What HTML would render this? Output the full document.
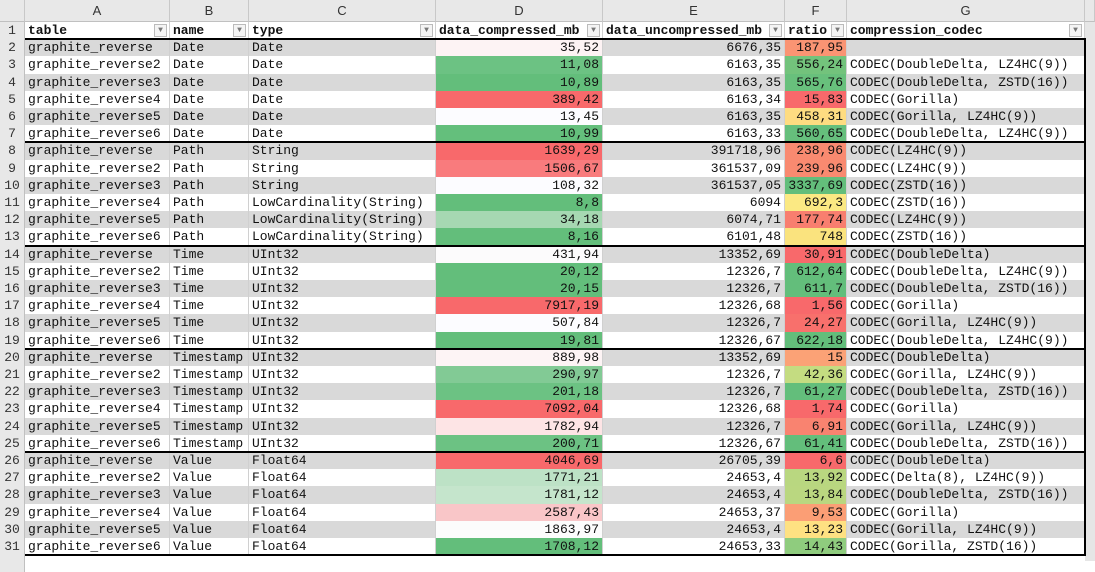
<!DOCTYPE html>
<html><head><meta charset="utf-8">
<style>
body{margin:0;width:1095px;height:561px;overflow:hidden;background:#fff;font-family:"Liberation Mono",monospace;font-size:13px;color:#111;position:relative}
.c{position:absolute;box-sizing:border-box;white-space:nowrap;overflow:hidden;line-height:17px;padding:0 3px;border-right:1px solid #d0d0d0}
.hd{position:absolute;top:0;height:22px;line-height:22px;text-align:center;background:#e8e8e8;border-right:1px solid #c8c8c8;border-bottom:1px solid #c0c0c0;box-sizing:border-box;font-family:"Liberation Sans",sans-serif;font-size:13px;color:#333}
.rn{position:absolute;left:0;width:25px;text-align:center;background:#e8e8e8;border-right:1px solid #c0c0c0;box-sizing:border-box;font-size:13px;color:#333;line-height:17px}
.r{text-align:right}
.b{font-weight:bold}
.dd{position:absolute;right:2px;top:2px;width:13px;height:13px;border:1px solid #bbb;background:#f4f4f4;box-sizing:border-box;font-size:8px;line-height:11px;text-align:center;color:#777}
.line{position:absolute;background:#000}
</style></head><body>
<div id="sheet"></div>
<script>
const cols=[["A",25,170],["B",170,249],["C",249,436],["D",436,603],["E",603,785],["F",785,847],["G",847,1085]];
const headers=["table","name","type","data_compressed_mb","data_uncompressed_mb","ratio","compression_codec"];
const tables=["graphite_reverse","graphite_reverse2","graphite_reverse3","graphite_reverse4","graphite_reverse5","graphite_reverse6"];
const names=["Date","Path","Time","Timestamp","Value"];
const types=[["Date","Date","Date","Date","Date","Date"],["String","String","String","LowCardinality(String)","LowCardinality(String)","LowCardinality(String)"],["UInt32","UInt32","UInt32","UInt32","UInt32","UInt32"],["UInt32","UInt32","UInt32","UInt32","UInt32","UInt32"],["Float64","Float64","Float64","Float64","Float64","Float64"]];
const compressed=["35,52","11,08","10,89","389,42","13,45","10,99","1639,29","1506,67","108,32","8,8","34,18","8,16","431,94","20,12","20,15","7917,19","507,84","19,81","889,98","290,97","201,18","7092,04","1782,94","200,71","4046,69","1771,21","1781,12","2587,43","1863,97","1708,12"];
const uncompressed=["6676,35","6163,35","6163,35","6163,34","6163,35","6163,33","391718,96","361537,09","361537,05","6094","6074,71","6101,48","13352,69","12326,7","12326,7","12326,68","12326,7","12326,67","13352,69","12326,7","12326,7","12326,68","12326,7","12326,67","26705,39","24653,4","24653,4","24653,37","24653,4","24653,33"];
const ratios=["187,95","556,24","565,76","15,83","458,31","560,65","238,96","239,96","3337,69","692,3","177,74","748","30,91","612,64","611,7","1,56","24,27","622,18","15","42,36","61,27","1,74","6,91","61,41","6,6","13,92","13,84","9,53","13,23","14,43"];
const codecs=["","CODEC(DoubleDelta, LZ4HC(9))","CODEC(DoubleDelta, ZSTD(16))","CODEC(Gorilla)","CODEC(Gorilla, LZ4HC(9))","CODEC(DoubleDelta, LZ4HC(9))","CODEC(LZ4HC(9))","CODEC(LZ4HC(9))","CODEC(ZSTD(16))","CODEC(ZSTD(16))","CODEC(LZ4HC(9))","CODEC(ZSTD(16))","CODEC(DoubleDelta)","CODEC(DoubleDelta, LZ4HC(9))","CODEC(DoubleDelta, ZSTD(16))","CODEC(Gorilla)","CODEC(Gorilla, LZ4HC(9))","CODEC(DoubleDelta, LZ4HC(9))","CODEC(DoubleDelta)","CODEC(Gorilla, LZ4HC(9))","CODEC(DoubleDelta, ZSTD(16))","CODEC(Gorilla)","CODEC(Gorilla, LZ4HC(9))","CODEC(DoubleDelta, ZSTD(16))","CODEC(DoubleDelta)","CODEC(Delta(8), LZ4HC(9))","CODEC(DoubleDelta, ZSTD(16))","CODEC(Gorilla)","CODEC(Gorilla, LZ4HC(9))","CODEC(Gorilla, ZSTD(16))"];
const dColors=["#fdf3f4","#6cc283","#63be7b","#f8696b","#fcfcff","#64bf7c","#f8696b","#f97b7d","#fcfcff","#63be7b","#a6d8b2","#63be7b","#fcfbfc","#63be7b","#63be7b","#f8696b","#fcfcff","#63be7b","#fdf4f5","#82ca95","#6cc283","#f8696b","#fde4e5","#6cc283","#f8696b","#bde2c6","#c5e5cc","#f9c6c8","#fcfcfc","#63be7b"];
const fColors=["#fa9473","#73c37c","#68c07c","#f8696b","#fedc81","#66bf7c","#f98a70","#f98a70","#63be7b","#fbe983","#f87e6f","#fae37e","#f8696b","#63be7b","#63be7b","#f8696b","#f8706c","#63be7b","#fba276","#c4dc81","#63be7b","#f8696b","#f98370","#63be7b","#f8696b","#b9d780","#bad780","#fb9e75","#fee182","#8fcc7e"];
const sheet=document.getElementById('sheet');
const RH=17.2, TOP=22;
function add(cls,x,y,w,h,txt,bg){const d=document.createElement('div');d.className=cls;d.style.left=x+'px';d.style.top=y+'px';d.style.width=w+'px';d.style.height=h+'px';if(bg)d.style.background=bg;d.textContent=txt;sheet.appendChild(d);return d;}
const corner=add('hd',0,0,25,22,'');


cols.forEach(c=>{const h=add('hd',c[1],0,c[2]-c[1],22,c[0]);

});
const filler=add('hd',1085,0,10,22,'');
for(let r=0;r<=31;r++){
  const y=TOP+r*RH;
  const rn=add('rn',0,y,25,RH,r<31?String(r+1):'');
  
  
  if(r>=31)continue;
  const gray=(r>0&&r%2===1);
  const rowbg=r===0?'#fff':(gray?'#d9d9d9':'#fff');
  let vals;
  if(r===0)vals=headers;
  else{const i=r-1,g=Math.floor(i/6),k=i%6;vals=[tables[k],names[g],types[g][k],compressed[i],uncompressed[i],ratios[i],codecs[i]];}
  cols.forEach((c,j)=>{
    let bg=rowbg;
    if(r>0&&j===3)bg=dColors[r-1];
    if(r>0&&j===5)bg=fColors[r-1];
    let cls='c'+(r===0?' b':'')+(r>0&&j>=3&&j<=5?' r':'');
    const cell=add(cls,c[1],y,c[2]-c[1],RH,vals[j],bg);
    
    
    if(r===0){const dd=document.createElement('div');dd.className='dd';dd.textContent='▼';
      
      
      cell.appendChild(dd);}
  });
}
const edge=add('c',1085,TOP,10,561-TOP,'','#e6e6e6');edge.style.border='none';


function line(x,y,w,h){const l=add('line',x,y,w,h,'');}
[1,7,13,19,25,31].forEach(k=>line(25,TOP+k*RH-1,1061,2));
line(1084,TOP+RH,2,30*RH);
</script>
</body></html>
